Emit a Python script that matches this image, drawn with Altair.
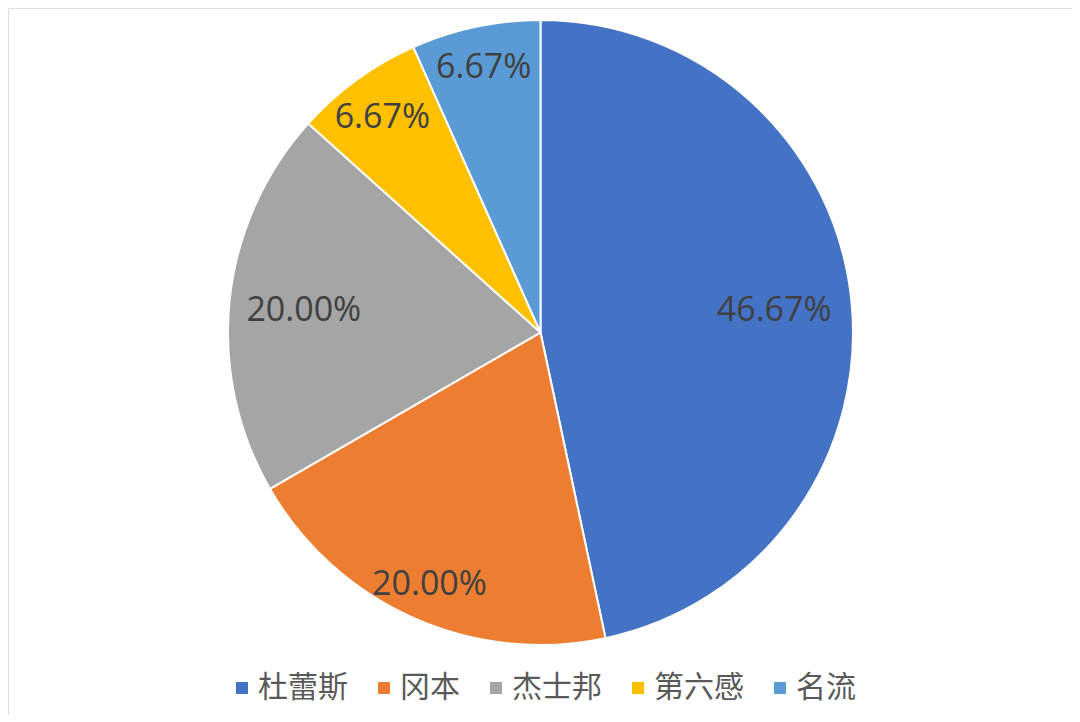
import altair as alt
import pandas as pd

brands = ["杜蕾斯", "冈本", "杰士邦", "第六感", "名流"]
shares = [46.67, 20.00, 20.00, 6.67, 6.67]
colors = ["#4472C4", "#ED7D31", "#A5A5A5", "#FFC000", "#5B9BD5"]

df = pd.DataFrame({"brand": brands, "share": shares, "idx": list(range(len(brands)))})

CX, CY, R = 532.5, 324.5, 312.5

radius_expr = ("datum.brand === '杜蕾斯' ? 235 : datum.brand === '杰士邦' ? 238 : "
               "datum.brand === '第六感' ? 269 : 273")

pie = alt.Chart(df).mark_arc(outerRadius=R, stroke="white", strokeWidth=2).encode(
    theta=alt.Theta("share:Q", stack=True),
    order=alt.Order("idx:Q", sort="ascending"),
    x=alt.value(CX),
    y=alt.value(CY),
    color=alt.Color(
        "brand:N",
        scale=alt.Scale(domain=brands, range=colors),
        sort=brands,
        legend=alt.Legend(
            title=None,
            orient="none",
            direction="horizontal",
            legendX=219,
            legendY=665,
            symbolType="square",
            symbolSize=144,
            symbolStrokeWidth=0,
            labelFont="Noto Sans CJK SC",
            labelFontSize=30,
            labelColor="#595959",
            labelOffset=1,
            columnPadding=21,
            padding=0,
        ),
    ),
)

labels = alt.Chart(df).transform_window(
    cum="sum(share)", sort=[alt.SortField("idx", order="ascending")], frame=[None, 0]
).transform_joinaggregate(
    total="sum(share)"
).transform_calculate(
    lr=radius_expr,
    mid="(datum.cum - datum.share / 2) / datum.total * 2 * PI",
).transform_calculate(
    lx=f"{CX} + datum.lr * sin(datum.mid)",
    ly=f"{CY} - datum.lr * cos(datum.mid)",
    txt="format(datum.share, '.2f') + '%'",
).mark_text(
    font="Open Sans",
    fontSize=34,
    color="#404040",
    align="center",
    baseline="middle",
    dy=3,
).encode(
    x=alt.X("lx:Q", scale=None),
    y=alt.Y("ly:Q", scale=None),
    text="txt:N",
)

chart = alt.layer(pie, labels).properties(
    width=1064,
    height=706,
    padding=0,
    autosize=alt.AutoSizeParams(type="none"),
).configure_view(stroke=None).configure(background="white")

chart.save("out.html", embed_options={"renderer": "svg", "actions": False})
